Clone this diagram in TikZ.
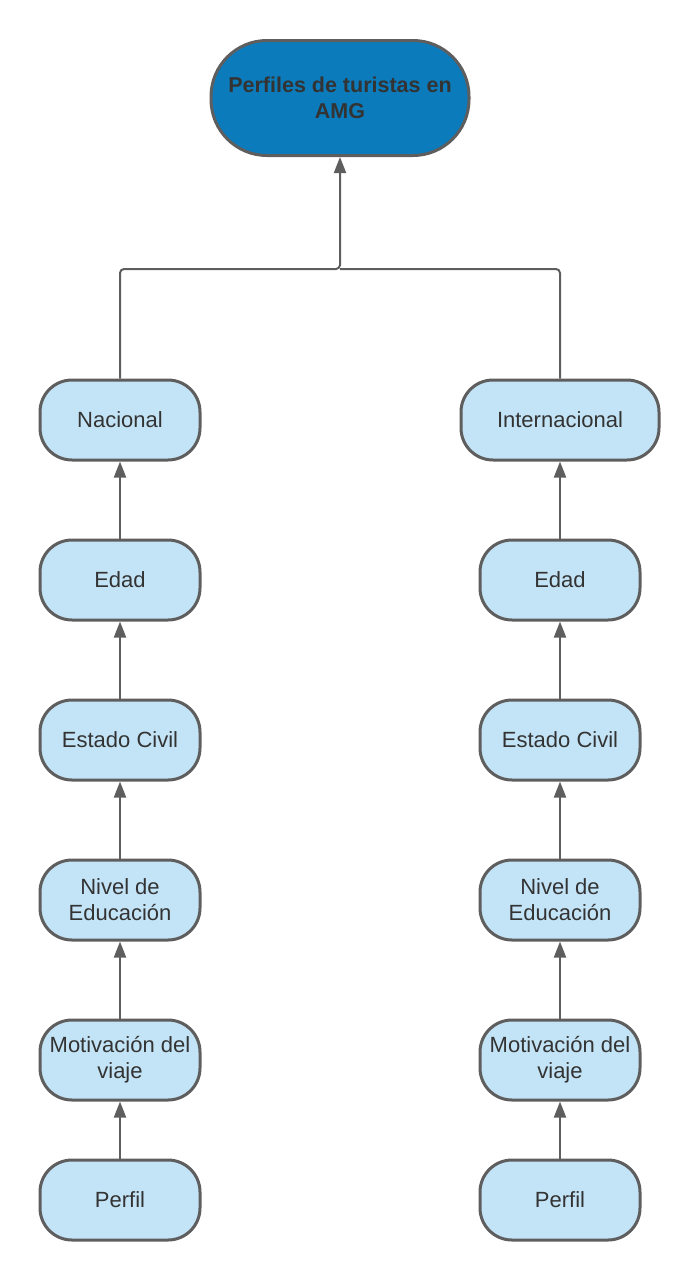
\documentclass[tikz,border=0pt]{standalone}
\usepackage{fontspec}
\setmainfont{Liberation Sans}
\usetikzlibrary{arrows.meta}

\definecolor{lineagris}{HTML}{5E5E5E}
\definecolor{azultitulo}{HTML}{0C7BBB}
\definecolor{azulclaro}{HTML}{C3E4F6}
\definecolor{textogris}{HTML}{333333}

\tikzset{
    caja/.style={draw=lineagris, line width=3pt, fill=azulclaro, rounded corners=32pt,
        minimum width=160pt, minimum height=80pt, inner sep=0pt, align=center,
        text=textogris, font=\fontsize{22}{26}\selectfont},
    titulo/.style={caja, fill=azultitulo, minimum width=258pt, minimum height=115pt,
        rounded corners=56pt, font=\bfseries\fontsize{21.5}{26}\selectfont},
    linea/.style={draw=lineagris, line width=2pt},
    flecha/.style={linea, -{Triangle[width=12pt,length=16pt]}}
}

\begin{document}
\begin{tikzpicture}[x=1pt, y=-1pt]
            \useasboundingbox (0,0) rectangle (700,1280);

            % Titulo
            \node[titulo] (perfiles) at (340,98) {Perfiles de turistas en\\AMG};

            % Columna nacional
            \node[caja] (nacional) at (120,420) {Nacional};
            \node[caja] (edadN) at (120,580) {Edad};
            \node[caja] (civilN) at (120,740) {Estado Civil};
            \node[caja] (educN) at (120,900) {Nivel de\\Educación};
            \node[caja] (motivN) at (120,1060) {Motivación del\\viaje};
            \node[caja] (perfilN) at (120,1200) {Perfil};

            % Columna internacional
            \node[caja, minimum width=198pt] (internacional) at (560,420) {Internacional};
            \node[caja] (edadI) at (560,580) {Edad};
            \node[caja] (civilI) at (560,740) {Estado Civil};
            \node[caja] (educI) at (560,900) {Nivel de\\Educación};
            \node[caja] (motivI) at (560,1060) {Motivación del\\viaje};
            \node[caja] (perfilI) at (560,1200) {Perfil};

            % Union hacia el titulo
            \coordinate (union) at (340,269);
            \draw[flecha, rounded corners=4pt] (nacional.north) |- (union) -- (perfiles.south);
            \draw[linea, rounded corners=4pt] (internacional.north) |- (union);

            % Flechas nacional
            \draw[flecha] (edadN.north) -- (nacional.south);
            \draw[flecha] (civilN.north) -- (edadN.south);
            \draw[flecha] (educN.north) -- (civilN.south);
            \draw[flecha] (motivN.north) -- (educN.south);
            \draw[flecha] (perfilN.north) -- (motivN.south);

            % Flechas internacional
            \draw[flecha] (edadI.north) -- (internacional.south);
            \draw[flecha] (civilI.north) -- (edadI.south);
            \draw[flecha] (educI.north) -- (civilI.south);
            \draw[flecha] (motivI.north) -- (educI.south);
            \draw[flecha] (perfilI.north) -- (motivI.south);
\end{tikzpicture}
\end{document}
